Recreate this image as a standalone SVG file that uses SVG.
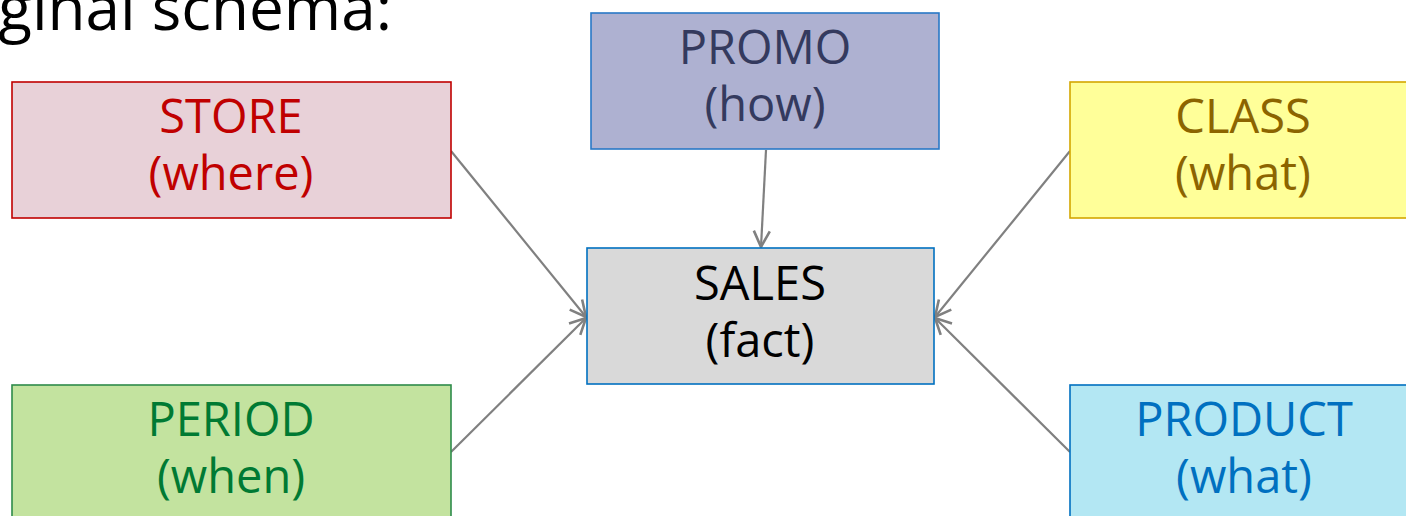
<svg xmlns="http://www.w3.org/2000/svg" width="1406" height="516" viewBox="0 0 1406 516">
  <style>
    .box { stroke-width: 1.6; }
    .lbl { font-family: "Open Sans", "DejaVu Sans", sans-serif; font-size: 47px; text-anchor: middle; }
    .title { font-family: "Open Sans", "DejaVu Sans", sans-serif; font-size: 62px; fill: #000; text-anchor: end; }
    .edge { stroke: #808080; stroke-width: 2.2; fill: none; marker-end: url(#openArrow); }
  </style>
  <defs>
    <marker id="openArrow" viewBox="0 0 20 20" refX="18" refY="10" markerWidth="20" markerHeight="20" markerUnits="userSpaceOnUse" orient="auto">
      <path d="M2,2 L18,10 L2,18" fill="none" stroke="#808080" stroke-width="2.6" stroke-linejoin="miter"/>
    </marker>
  </defs>

  <rect width="1406" height="516" fill="#ffffff"/>

  <text class="title" x="392" y="30">original schema:</text>

  <g id="connectors">
    <line class="edge" x1="451" y1="151" x2="586" y2="317"/>
    <line class="edge" x1="451" y1="452" x2="586" y2="318"/>
    <line class="edge" x1="766" y1="150" x2="761" y2="247"/>
    <line class="edge" x1="1070" y1="151" x2="935" y2="317"/>
    <line class="edge" x1="1070" y1="452" x2="935" y2="318"/>
  </g>

  <g id="store">
    <rect class="box" x="12" y="82" width="439" height="136" fill="#E8D1D8" stroke="#C00000"/>
    <text class="lbl" x="231" y="133" fill="#C00000">STORE</text>
    <text class="lbl" x="231" y="190" fill="#C00000">(where)</text>
  </g>

  <g id="promo">
    <rect class="box" x="591" y="13" width="348" height="136" fill="#AEB1D1" stroke="#2878C6"/>
    <text class="lbl" x="765" y="64" fill="#343A5E">PROMO</text>
    <text class="lbl" x="765" y="121" fill="#343A5E">(how)</text>
  </g>

  <g id="class">
    <rect class="box" x="1070" y="82" width="347" height="136" fill="#FFFF99" stroke="#D4A700"/>
    <text class="lbl" x="1243" y="133" fill="#8C6400">CLASS</text>
    <text class="lbl" x="1243" y="190" fill="#8C6400">(what)</text>
  </g>

  <g id="sales">
    <rect class="box" x="587" y="248" width="347" height="136" fill="#D9D9D9" stroke="#0070C0"/>
    <text class="lbl" x="760" y="300" fill="#000000">SALES</text>
    <text class="lbl" x="760" y="357" fill="#000000">(fact)</text>
  </g>

  <g id="period">
    <rect class="box" x="12" y="385" width="439" height="140" fill="#C3E39F" stroke="#2E8B4A"/>
    <text class="lbl" x="231" y="436" fill="#007A33">PERIOD</text>
    <text class="lbl" x="231" y="493" fill="#007A33">(when)</text>
  </g>

  <g id="product">
    <rect class="box" x="1070" y="385" width="347" height="140" fill="#B3E7F3" stroke="#0070C0"/>
    <text class="lbl" x="1244" y="436" fill="#0070C0">PRODUCT</text>
    <text class="lbl" x="1244" y="493" fill="#0070C0">(what)</text>
  </g>
</svg>
